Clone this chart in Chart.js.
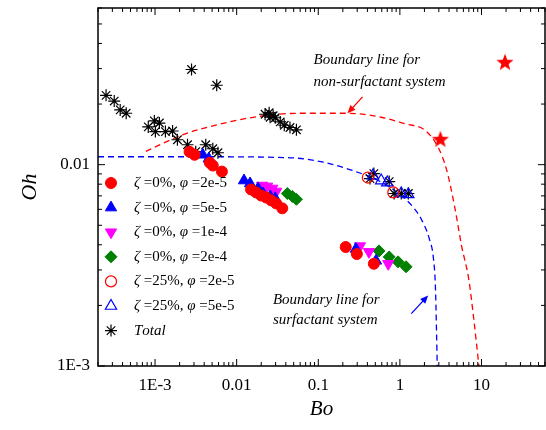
<!DOCTYPE html>
<html>
<head>
<meta charset="utf-8">
<script src="https://cdn.jsdelivr.net/npm/chart.js@4.4.0/dist/chart.umd.min.js"></script>
<style>
html, body { margin: 0; padding: 0; background: #fff; }
</style>
</head>
<body>
<canvas id="c" width="546" height="430"></canvas>
<script>
// axis ticks
const xTicks = [1e-3, 0.01, 0.1, 1, 10]
const xTickLabels = ['1E-3', '0.01', '0.1', '1', '10']
const yTicks = [1e-3, 0.01]
const yTickLabels = ['1E-3', '0.01']

// zeta=0%, phi=2e-5
const r0Bo = [2.65e-3, 3.05e-3, 4.68e-3, 5.1e-3, 6.6e-3, 0.0150, 0.0173, 0.0199, 0.0230, 0.0265, 0.0305, 0.0362, 0.217, 0.297, 0.48]
const r0Oh = [0.01159, 0.0112, 0.01023, 0.0099, 0.00924, 0.00753, 0.00728, 0.00703, 0.00687, 0.00665, 0.00642, 0.00607, 0.0039, 0.0036, 0.00322]
// zeta=0%, phi=5e-5
const b0Bo = [3.84e-3, 4.55e-3, 0.0123, 0.0146, 0.0183, 0.0211, 0.0258, 0.0297, 0.289, 0.51]
const b0Oh = [0.0112, 0.01071, 0.00834, 0.00806, 0.00762, 0.00719, 0.00695, 0.0068, 0.00381, 0.00333]
// zeta=0%, phi=1e-4
const m0Bo = [0.0205, 0.0236, 0.0273, 0.0305, 0.324, 0.418, 0.72]
const m0Oh = [0.00788, 0.0078, 0.00762, 0.00736, 0.00394, 0.00369, 0.00322]
// zeta=0%, phi=2e-4
const g0Bo = [0.0418, 0.0482, 0.054, 0.555, 0.74, 0.95, 1.19]
const g0Oh = [0.00719, 0.00695, 0.00673, 0.00373, 0.00348, 0.00329, 0.00311]
// zeta=25%
const r25Bo = [0.405, 0.83]
const r25Oh = [0.00863, 0.00728]
const b25Bo = [0.468, 0.59, 0.70, 1.04, 1.27]
const b25Oh = [0.00883, 0.00834, 0.00815, 0.00719, 0.00712]
// total
const totBo = [2.51e-4, 3.16e-4, 3.74e-4, 4.43e-4, 8.26e-4, 9.8e-4, 1.13e-3, 1.01e-3, 1.34e-3, 1.64e-3, 1.88e-3, 2.5e-3, 3.15e-3, 4.18e-3, 5.1e-3, 5.9e-3, 2.8e-3, 5.7e-3,
  0.0223, 0.025, 0.0257, 0.028, 0.0297, 0.0342, 0.0383, 0.045, 0.054, 0.43, 0.48, 0.74, 0.85, 1.04, 1.27]
const totOh = [0.0221, 0.0207, 0.0187, 0.018, 0.0154, 0.0165, 0.0161, 0.0146, 0.0146, 0.0147, 0.0133, 0.01256, 0.0116, 0.01256, 0.012, 0.01146, 0.0297, 0.0248,
  0.0178, 0.0181, 0.0172, 0.0175, 0.0171, 0.0163, 0.0157, 0.0153, 0.0149, 0.00853, 0.00903, 0.00824, 0.00719, 0.00719, 0.00719]
// red stars
const starBo = [19.4, 3.14]
const starOh = [0.0321, 0.0133]
// boundary lines
const nonSurfBo = [7.7e-4, 2.17e-3, 6.2e-3, 0.0194, 0.0605, 0.23, 0.59, 1.2, 2.0, 2.97, 3.73, 4.68, 5.71, 6.97, 8.03, 9.3]
const nonSurfOh = [0.01164, 0.01406, 0.0159, 0.0174, 0.018, 0.018, 0.0172, 0.0159, 0.0149, 0.0121, 0.00945, 0.00621, 0.00394, 0.00271, 0.00172, 0.001]
const surfBo = [2e-4, 3.5e-3, 0.0455, 0.107, 0.188, 0.288, 0.51, 0.9, 1.46, 1.83, 2.3, 2.58, 2.73, 2.87]
const surfOh = [0.01095, 0.01095, 0.01082, 0.01035, 0.00977, 0.00924, 0.00844, 0.00736, 0.00614, 0.00536, 0.00427, 0.00341, 0.00242, 0.001]

const pts = (a, b) => a.map((v, i) => ({x: v, y: b[i]}))

// filled five point star used as point style
function starImg(r, color) {
  const c = document.createElement('canvas')
  c.width = c.height = r * 2 + 2
  const g = c.getContext('2d')
  g.fillStyle = color
  g.beginPath()
  for (let i = 0; i < 10; i++) {
    const rr = i % 2 ? r * 0.42 : r
    const a = -Math.PI / 2 + i * Math.PI / 5
    g.lineTo(r + 1 + rr * Math.cos(a), r + 1 + rr * Math.sin(a))
  }
  g.closePath()
  g.fill()
  return c
}

const serif = "'Liberation Serif', 'Times New Roman', serif"

const frame = {
  id: 'frame',
  afterDraw(chart) {
    const {ctx, chartArea: a, scales: {x, y}} = chart
    ctx.save()
    ctx.strokeStyle = '#000'
    ctx.lineWidth = 1
    const each = (scale, fn) => {
      for (let e = -5; e <= 2; e++) {
        for (let m = 1; m <= 9; m++) {
          const v = m * Math.pow(10, e)
          if (v < scale.min * 0.999 || v > scale.max * 1.001) continue
          fn(scale.getPixelForValue(v), m === 1 ? 7 : 4)
        }
      }
    }
    ctx.beginPath()
    each(x, (p, l) => {
      ctx.moveTo(p, a.bottom); ctx.lineTo(p, a.bottom - l)
      ctx.moveTo(p, a.top); ctx.lineTo(p, a.top + l)
    })
    each(y, (p, l) => {
      ctx.moveTo(a.left, p); ctx.lineTo(a.left + l, p)
      ctx.moveTo(a.right, p); ctx.lineTo(a.right - l, p)
    })
    ctx.stroke()
    ctx.lineWidth = 1.5
    ctx.strokeRect(a.left, a.top, a.right - a.left, a.bottom - a.top)
    ctx.restore()
  }
}

function arrow(ctx, x0, y0, x1, y1, color) {
  const ang = Math.atan2(y1 - y0, x1 - x0)
  ctx.strokeStyle = color
  ctx.fillStyle = color
  ctx.lineWidth = 1.3
  ctx.beginPath()
  ctx.moveTo(x0, y0)
  ctx.lineTo(x1 - 5 * Math.cos(ang), y1 - 5 * Math.sin(ang))
  ctx.stroke()
  ctx.beginPath()
  ctx.moveTo(x1, y1)
  ctx.lineTo(x1 - 8 * Math.cos(ang) + 3.5 * Math.sin(ang), y1 - 8 * Math.sin(ang) - 3.5 * Math.cos(ang))
  ctx.lineTo(x1 - 8 * Math.cos(ang) - 3.5 * Math.sin(ang), y1 - 8 * Math.sin(ang) + 3.5 * Math.cos(ang))
  ctx.closePath()
  ctx.fill()
}

const notes = {
  id: 'notes',
  afterDatasetsDraw(chart) {
    const {ctx, scales: {x, y}} = chart
    ctx.save()
    ctx.font = 'italic 15px ' + serif
    ctx.fillStyle = '#000'
    ctx.textBaseline = 'middle'
    ctx.textAlign = 'left'
    ctx.fillText('Boundary line for', x.getPixelForValue(0.0875), y.getPixelForValue(0.0329))
    ctx.fillText('non-surfactant system', x.getPixelForValue(0.0875), y.getPixelForValue(0.0256))
    ctx.fillText('Boundary line for', x.getPixelForValue(0.0278), y.getPixelForValue(0.00212))
    ctx.fillText('surfactant system', x.getPixelForValue(0.0278), y.getPixelForValue(0.00169))
    arrow(ctx, x.getPixelForValue(0.349), y.getPixelForValue(0.0217), x.getPixelForValue(0.228), y.getPixelForValue(0.018), '#ff0000')
    arrow(ctx, x.getPixelForValue(1.38), y.getPixelForValue(0.00182), x.getPixelForValue(2.22), y.getPixelForValue(0.00224), '#0000ff')
    ctx.restore()
  }
}

const legendIn = {
  id: 'legendIn',
  afterDraw(chart) {
    const ctx = chart.ctx
    const rows = chart.data.datasets.filter(d => d.legend)
    ctx.save()
    rows.forEach((d, i) => {
      const yy = 183 + i * 24.6
      ctx.fillStyle = d.backgroundColor
      ctx.strokeStyle = d.borderColor
      ctx.lineWidth = d.borderWidth
      Chart.helpers.drawPoint(ctx, {
        pointStyle: d.pointStyle, radius: d.pointRadius,
        rotation: d.pointRotation || 0, borderWidth: d.borderWidth
      }, 111, yy)
      ctx.fillStyle = '#000'
      ctx.textBaseline = 'middle'
      ctx.textAlign = 'left'
      let xx = 134
      for (const ch of d.label) {
        const it = d.label === 'Total' || ch === 'ζ' || ch === 'φ'
        ctx.font = (it ? 'italic ' : '') + '15px ' + serif
        ctx.fillText(ch, xx, yy)
        xx += ctx.measureText(ch).width
      }
    })
    ctx.restore()
  }
}

const sym = (label, data, style, color, fill, r, extra) => Object.assign({
  label: label, data: data, legend: true,
  pointStyle: style, pointRadius: r, pointHoverRadius: r,
  borderColor: color, backgroundColor: fill, borderWidth: 1
}, extra || {})

new Chart(document.getElementById('c'), {
  type: 'scatter',
  data: {
    datasets: [
      sym('ζ =0%, φ =2e-5', pts(r0Bo, r0Oh), 'circle', '#ff0000', '#ff0000', 5.5),
      sym('ζ =0%, φ =5e-5', pts(b0Bo, b0Oh), 'triangle', '#0000ff', '#0000ff', 6.5),
      sym('ζ =0%, φ =1e-4', pts(m0Bo, m0Oh), 'triangle', '#ff00ff', '#ff00ff', 6.5, {pointRotation: 180}),
      sym('ζ =0%, φ =2e-4', pts(g0Bo, g0Oh), 'rectRot', '#008000', '#008000', 6),
      sym('ζ =25%, φ =2e-5', pts(r25Bo, r25Oh), 'circle', '#ff0000', 'rgba(0,0,0,0)', 5.5, {borderWidth: 1.2}),
      sym('ζ =25%, φ =5e-5', pts(b25Bo, b25Oh), 'triangle', '#0000ff', 'rgba(0,0,0,0)', 6.5, {borderWidth: 1.2}),
      sym('Total', pts(totBo, totOh), 'star', '#000000', '#000000', 6, {borderWidth: 1.2}),
      {
        label: 'stars', data: pts(starBo, starOh), pointStyle: starImg(9, '#ff0000'),
        pointRadius: 9, backgroundColor: '#ff0000', borderColor: '#ff0000'
      },
      {
        type: 'line', label: 'non-surfactant', data: pts(nonSurfBo, nonSurfOh),
        borderColor: '#ff0000', borderWidth: 1.3, borderDash: [6, 4], pointRadius: 0,
        cubicInterpolationMode: 'monotone', fill: false, order: 5
      },
      {
        type: 'line', label: 'surfactant', data: pts(surfBo, surfOh),
        borderColor: '#0000ff', borderWidth: 1.3, borderDash: [6, 4], pointRadius: 0,
        cubicInterpolationMode: 'monotone', fill: false, order: 5
      }
    ]
  },
  options: {
    responsive: false,
    animation: false,
    devicePixelRatio: 1,
    layout: { autoPadding: false, padding: { top: 8, right: 1, left: 0, bottom: 0 } },
    plugins: { legend: { display: false }, tooltip: { enabled: false } },
    scales: {
      x: {
        type: 'logarithmic', min: 2e-4, max: 60,
        afterBuildTicks: s => { s.ticks = xTicks.map(v => ({value: v})) },
        afterFit: s => { s.height = 64; s.paddingLeft = 0; s.paddingRight = 0 },
        grid: { display: false, drawTicks: false },
        border: { display: false },
        ticks: {
          autoSkip: false, maxRotation: 0, padding: 9, color: '#000',
          font: { family: serif, size: 17 },
          callback: (v, i) => xTickLabels[i]
        },
        title: {
          display: true, text: 'Bo', color: '#000',
          font: { family: serif, size: 21, style: 'italic' },
          padding: { top: 0, bottom: 8 }
        }
      },
      y: {
        type: 'logarithmic', min: 1e-3, max: 0.06,
        afterBuildTicks: s => { s.ticks = yTicks.map(v => ({value: v})) },
        afterFit: s => { s.width = 98; s.paddingTop = 0; s.paddingBottom = 0 },
        grid: { display: false, drawTicks: false },
        border: { display: false },
        ticks: {
          autoSkip: false, padding: 8, color: '#000',
          font: { family: serif, size: 17 },
          callback: (v, i) => yTickLabels[i]
        },
        title: {
          display: true, text: 'Oh', color: '#000',
          font: { family: serif, size: 22, style: 'italic' },
          padding: { top: 17, bottom: 0 }
        }
      }
    }
  },
  plugins: [frame, notes, legendIn]
})
</script>
</body>
</html>
